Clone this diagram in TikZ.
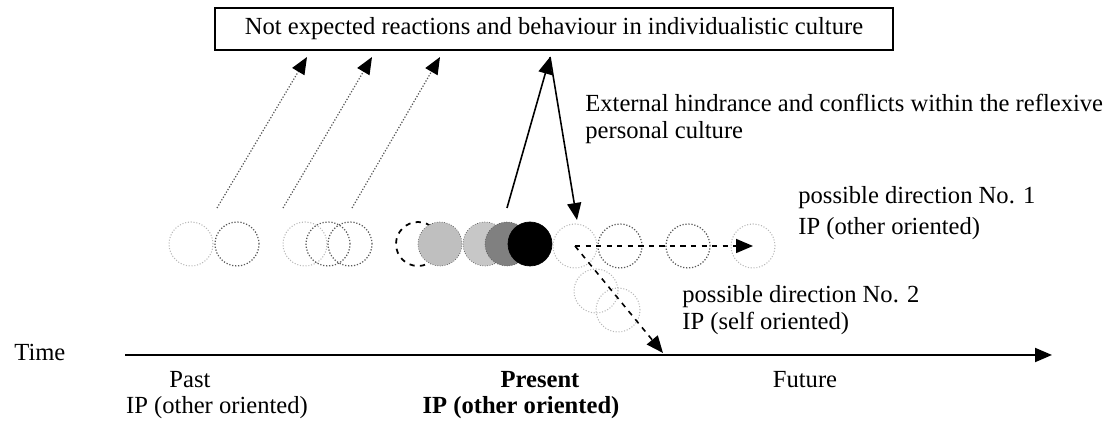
\documentclass[tikz,border=0pt]{standalone}
\usepackage{fontspec}
\setmainfont{Liberation Serif}
\usetikzlibrary{arrows.meta}

\definecolor{ghostgray}{gray}{0.72}
\definecolor{pastgray}{gray}{0.35}

\tikzset{
  txt/.style={anchor=west,inner sep=0pt,font=\fontsize{14}{16}\selectfont},
  stage/.style={inner sep=0pt,font=\fontsize{14}{16}\selectfont},
  ip/.style={circle,minimum size=0.88cm,inner sep=0pt},
  ghost/.style={ip,draw=ghostgray,densely dotted,line width=0.6pt},
  pastip/.style={ip,draw=pastgray,densely dotted,line width=0.7pt},
  tip/.style={-{Triangle[length=0.34cm,width=0.28cm,color=black]}},
}

\begin{document}
\begin{tikzpicture}[x=0.02cm,y=-0.02cm]
  \useasboundingbox (0,0) rectangle (1117,421);

  % top box
  \node[draw,line width=0.8pt,minimum width=13.56cm,minimum height=0.84cm,
        inner sep=0pt,font=\fontsize{14}{16}\selectfont] (react) at (554,29)
        {Not expected reactions and behaviour in individualistic culture};

  % past
  \node[ghost]  (a1) at (191,244) {};
  \node[pastip] (a2) at (237,244) {};
  \node[ghost]  (b1) at (305,244) {};
  \node[pastip] (b2) at (328,244) {};
  \node[pastip] (b3) at (350,244) {};

  % present
  \node[ip,draw,dashed,line width=1pt] (c1) at (418,244) {};
  \node[ip,draw=pastgray,densely dotted,fill=black!25] (c2) at (440,244) {};
  \node[ip,draw=pastgray,densely dotted,fill=black!22] (c3) at (485,244) {};
  \node[ip,draw=pastgray,densely dotted,fill=black!50] (c4) at (507,244) {};
  \node[ip,draw,fill=black] (c5) at (530,244) {};

  % future
  \node[ghost]  (now) at (575,246) {};
  \node[pastip] (d2) at (620,246) {};
  \node[pastip] (d3) at (688,246) {};
  \node[ghost]  (d4) at (753,246) {};
  \node[ghost]  (e1) at (596,291) {};
  \node[ghost]  (e2) at (618,310) {};

  % arrows to the box
  \coordinate (s1) at (217,208); \coordinate (r1) at (307,57);
  \coordinate (s2) at (283,208); \coordinate (r2) at (372,57);
  \coordinate (s3) at (352,208); \coordinate (r3) at (440,57);
  \coordinate (s4) at (507,208); \coordinate (r4) at (550,57);
  \coordinate (s5) at (577,220);
  \draw[tip,densely dotted,draw=pastgray,line width=0.7pt] (s1) -- (r1);
  \draw[tip,densely dotted,draw=pastgray,line width=0.7pt] (s2) -- (r2);
  \draw[tip,densely dotted,draw=pastgray,line width=0.7pt] (s3) -- (r3);
  \draw[tip,line width=0.9pt] (s4) -- (r4);
  \draw[tip,line width=0.9pt] (r4) -- (s5);

  % directions
  \coordinate (fork) at (663,353);
  \draw[tip,dashed,line width=0.9pt] (now.center) -- (d4.center);
  \draw[tip,dashed,line width=0.9pt] (now.center) -- (fork);

  % time axis
  \node[txt] (time) at (14,352) {Time};
  \coordinate (t0) at (125,355);
  \coordinate (t1) at (1052,355);
  \draw[tip,line width=1.1pt] (t0) -- (t1);

  % labels
  \node[txt] (ext) at (585,103) {External hindrance and conflicts within the reflexive};
  \node[txt] (ext2) at (585,133) {personal culture};
  \node[txt] (dir1) at (798,198) {possible direction No. 1};
  \node[txt] (dir1b) at (798,229) {IP (other oriented)};
  \node[txt] (dir2) at (682,297) {possible direction No. 2};
  \node[txt] (dir2b) at (682,323) {IP (self oriented)};

  \node[stage] (past) at (190,380) {Past};
  \node[stage] (pastb) at (217,408) {IP (other oriented)};
  \node[stage,font=\fontsize{14}{16}\selectfont\bfseries] (pres) at (540,380) {Present};
  \node[stage,font=\fontsize{14}{16}\selectfont\bfseries] (presb) at (521,408) {IP (other oriented)};
  \node[stage] (fut) at (805,380) {Future};
\end{tikzpicture}
\end{document}
